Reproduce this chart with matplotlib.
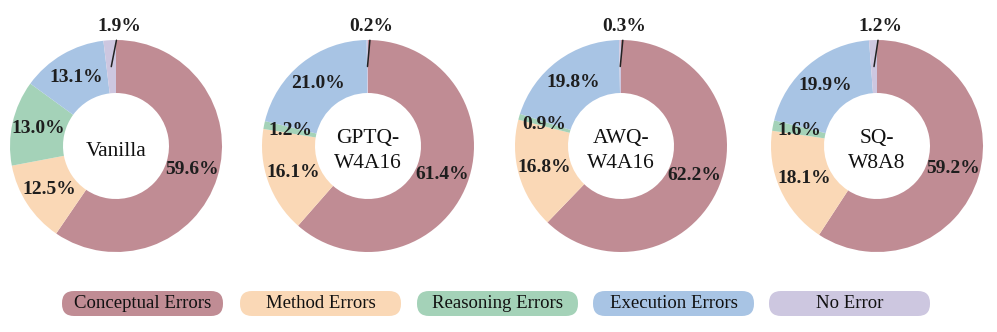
import matplotlib.pyplot as plt
import numpy as np
from matplotlib.patches import FancyBboxPatch

plt.rcParams['font.family'] = ['Liberation Serif', 'DejaVu Serif']

# data
categories = ["Conceptual Errors", "Method Errors", "Reasoning Errors", "Execution Errors", "No Error"]
colors = ["#C08C94", "#FAD8B6", "#A4D2B8", "#A8C4E4", "#CDC7E0"]
models = ["Vanilla", "GPTQ-\nW4A16", "AWQ-\nW4A16", "SQ-\nW8A8"]
vanilla = [59.6, 12.5, 13.0, 13.1, 1.9]
gptq = [61.4, 16.1, 1.2, 21.0, 0.2]
awq = [62.2, 16.8, 0.9, 19.8, 0.3]
sq = [59.2, 18.1, 1.6, 19.9, 1.2]
all_vals = [vanilla, gptq, awq, sq]

W, H = 997, 332
fig = plt.figure(figsize=(W / 100, H / 100), dpi=100)

centers_x = [116, 368, 621, 877]  # pixel centres of donuts
cy = 146
r = 106
txt_col = "#1e1e1e"

for cx, vals, name in zip(centers_x, all_vals, models):
    ax = fig.add_axes([(cx - r) / W, (H - cy - r) / H, 2 * r / W, 2 * r / H])
    wedges, _ = ax.pie(vals, colors=colors, startangle=90, counterclock=False,
                       radius=1, wedgeprops=dict(width=0.5, linewidth=0))
    ax.set_xlim(-1, 1)
    ax.set_ylim(-1, 1)
    ax.axis("off")
    for i, (w, v) in enumerate(zip(wedges, vals)):
        ang = np.deg2rad((w.theta1 + w.theta2) / 2)
        x, y = 0.75 * np.cos(ang), 0.75 * np.sin(ang)
        if i == len(vals) - 1:
            # tiny slice at the top -> label outside with a line
            ax.annotate(f"{v:.1f}%", xy=(x, y), xytext=(0.03, 1.13),
                        ha="center", va="center", fontsize=14, fontweight="bold",
                        color=txt_col, annotation_clip=False,
                        arrowprops=dict(arrowstyle="-", color="#222222", lw=1.1,
                                        shrinkA=2, shrinkB=0))
        else:
            ax.text(x, y, f"{v:.1f}%", ha="center", va="center", fontsize=14,
                    fontweight="bold", color=txt_col)
    ax.text(0, -0.05, name, ha="center", va="center", fontsize=15.5, color="#111111",
            linespacing=1.45)

# legend as pill-shaped boxes, drawn in a full-figure axes in pixel units
lax = fig.add_axes([0, 0, 1, 1])
lax.set_xlim(0, W)
lax.set_ylim(0, H)
lax.axis("off")
lx = [62, 240, 417, 593, 769]
bw, bh = 161, 25
by = H - 316
for x0, lab, c in zip(lx, categories, colors):
    box = FancyBboxPatch((x0, by), bw, bh,
                         boxstyle="round,pad=0,rounding_size=12",
                         facecolor=c, edgecolor="none")
    lax.add_patch(box)
    lax.text(x0 + bw / 2, by + bh / 2, lab, ha="center", va="center",
             fontsize=13.5, color="#111111")

plt.savefig("out.png", dpi=100)
